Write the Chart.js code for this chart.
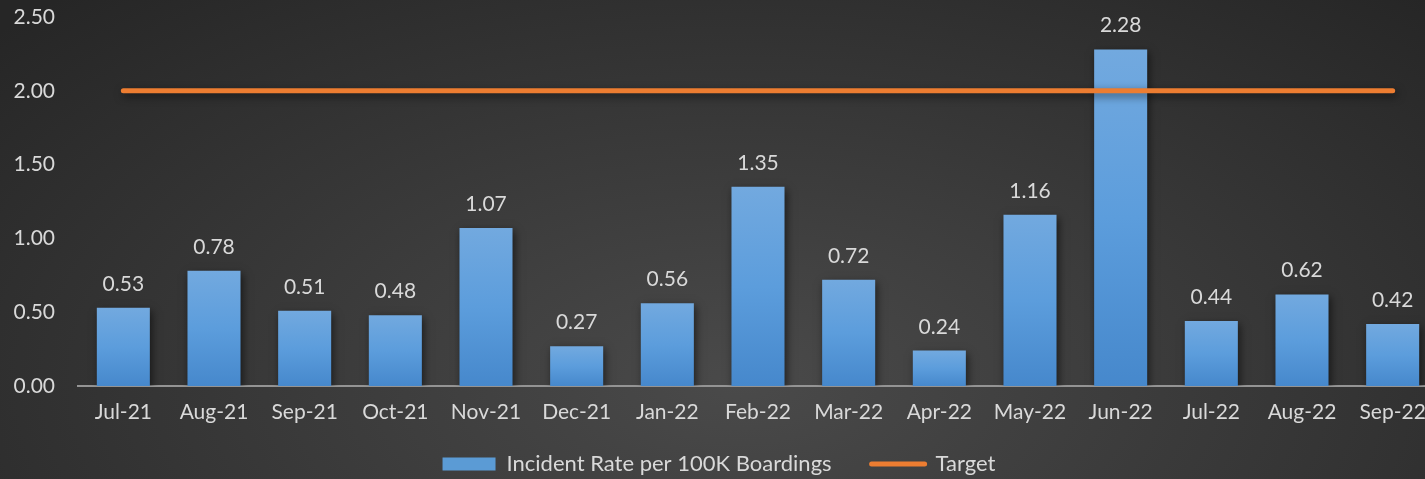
<!DOCTYPE html>
<html>
<head>
<meta charset="utf-8">
<script src="https://cdn.jsdelivr.net/npm/chart.js@4"></script>
<style>
  html, body { margin: 0; padding: 0; overflow: hidden; }
  body {
    width: 1425px; height: 479px;
    background: radial-gradient(ellipse 70% 110% at 52% 80%, #4a4a4a 0%, #3a3a3a 45%, #262626 100%);
  }
  #wrap { width: 1438px; height: 479px; position: relative; }
</style>
</head>
<body>
<div id="wrap"><canvas id="myChart"></canvas></div>
<script>
var months = ["Jul-21", "Aug-21", "Sep-21", "Oct-21", "Nov-21", "Dec-21", "Jan-22", "Feb-22",
              "Mar-22", "Apr-22", "May-22", "Jun-22", "Jul-22", "Aug-22", "Sep-22"];
var incidentRate = [0.53, 0.78, 0.51, 0.48, 1.07, 0.27, 0.56, 1.35, 0.72, 0.24, 1.16, 2.28, 0.44, 0.62, 0.42];
var target = [2, 2, 2, 2, 2, 2, 2, 2, 2, 2, 2, 2, 2, 2, 2];
var yTicks = [0, 0.5, 1, 1.5, 2, 2.5];

var textColor = "#d9d9d9";
var fontFamily = "Lato, 'Open Sans', sans-serif";

// gradient per bar, lighter on top
function barFill(context) {
    var chart = context.chart;
    var y = chart.scales.y;
    if (!y || context.parsed === undefined) return "#5b9bd5";
    var top = y.getPixelForValue(context.parsed.y);
    var bottom = y.getPixelForValue(0);
    if (!isFinite(top) || !isFinite(bottom)) return "#5b9bd5";
    var g = chart.ctx.createLinearGradient(0, top, 0, bottom);
    g.addColorStop(0, "#72a9df");
    g.addColorStop(0.5, "#5c9ddc");
    g.addColorStop(1, "#4688cc");
    return g;
}

var shadowPlugin = {
    id: "shadows",
    beforeDatasetDraw: function (chart) {
        var ctx = chart.ctx;
        ctx.save();
        ctx.shadowColor = "rgba(0,0,0,0.55)";
        ctx.shadowBlur = 8;
        ctx.shadowOffsetX = 2;
        ctx.shadowOffsetY = 3;
    },
    afterDatasetDraw: function (chart) {
        chart.ctx.restore();
    }
};

// value labels above the bars
var valueLabels = {
    id: "valueLabels",
    afterDatasetsDraw: function (chart) {
        var ctx = chart.ctx;
        var meta = chart.getDatasetMeta(0);
        ctx.save();
        ctx.fillStyle = textColor;
        ctx.font = "21px " + fontFamily;
        ctx.textAlign = "center";
        ctx.textBaseline = "alphabetic";
        meta.data.forEach(function (bar, i) {
            ctx.fillText(incidentRate[i].toFixed(2), bar.x, bar.y - 17);
        });
        ctx.restore();
    }
};

// fixed legend height, then raise its top (labels.padding also sets the item gap)
var legendPlace = {
    id: "legendPlace",
    afterInit: function (chart) {
        var legend = chart.legend;
        var fit = legend.fit;
        legend.fit = function () {
            fit.call(this);
            this.height = 52;
        };
    },
    afterLayout: function (chart) {
        chart.legend.top -= 14;
    }
};

var ctx = document.getElementById("myChart").getContext("2d");

var myChart = new Chart(ctx, {
    type: "bar",
    data: {
        labels: months,
        datasets: [{
            label: "Incident Rate per 100K Boardings",
            data: incidentRate,
            backgroundColor: barFill,
            borderWidth: 0,
            barPercentage: 0.585,
            categoryPercentage: 1,
            order: 1
        }, {
            type: "line",
            label: "Target",
            data: target,
            borderColor: "#ed7d31",
            borderWidth: 5,
            borderCapStyle: "round",
            pointRadius: 0,
            fill: false,
            order: 0
        }]
    },
    options: {
        responsive: true,
        maintainAspectRatio: false,
        animation: false,
        layout: { padding: { left: 0, right: 0, top: 17, bottom: 0 } },
        plugins: {
            tooltip: { enabled: false },
            legend: {
                position: "bottom",
                labels: {
                    color: textColor,
                    font: { family: fontFamily, size: 22 },
                    usePointStyle: true,
                    pointStyleWidth: 53,
                    boxHeight: 13,
                    padding: 40,
                    generateLabels: function () {
                        return [{
                            text: "Incident Rate per 100K Boardings",
                            fillStyle: "#5b9bd5",
                            strokeStyle: "#5b9bd5",
                            lineWidth: 0,
                            pointStyle: "rect",
                            fontColor: textColor,
                            datasetIndex: 0
                        }, {
                            text: "Target",
                            fillStyle: "#ed7d31",
                            strokeStyle: "#ed7d31",
                            lineWidth: 5,
                            lineCap: "round",
                            pointStyle: "line",
                            fontColor: textColor,
                            datasetIndex: 1
                        }];
                    }
                }
            }
        },
        scales: {
            x: {
                grid: { display: false, drawTicks: false },
                border: { display: true, color: "#949494", width: 2 },
                ticks: {
                    color: textColor,
                    font: { family: fontFamily, size: 21 },
                    padding: 14,
                    maxRotation: 0,
                    autoSkip: false
                },
                afterFit: function (scale) {
                    scale.height = 41;
                    scale.paddingLeft = 0;
                    scale.paddingRight = 0;
                }
            },
            y: {
                min: 0,
                max: 2.5,
                grid: { display: false, drawTicks: false },
                border: { display: false },
                afterBuildTicks: function (scale) {
                    scale.ticks = yTicks.map(function (v) { return { value: v }; });
                },
                ticks: {
                    color: textColor,
                    font: { family: fontFamily, size: 21 },
                    padding: 23,
                    callback: function (v) { return Number(v).toFixed(2); }
                },
                afterFit: function (scale) {
                    scale.width = 78;
                    scale.paddingTop = 0;
                    scale.paddingBottom = 0;
                }
            }
        }
    },
    plugins: [shadowPlugin, valueLabels, legendPlace]
});
</script>
</body>
</html>
